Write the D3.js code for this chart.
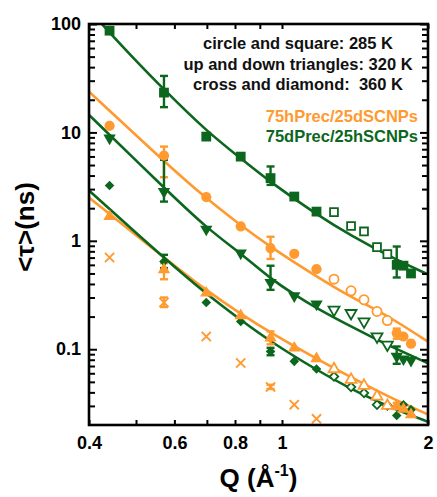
<!DOCTYPE html>
<html><head><meta charset="utf-8">
<script src="https://cdn.jsdelivr.net/npm/d3@7"></script>
<style>
body{margin:0;background:#fff}
text{font-family:"Liberation Sans",Arial,sans-serif;font-weight:bold}
</style>
</head><body><svg id="c" width="437" height="497"></svg>
<script>
// ---------------- data ----------------
const qFilled = [0.441, 0.571, 0.698, 0.822, 0.947, 1.060, 1.178, 1.724, 1.780, 1.845];
const qOpen   = [1.280, 1.388, 1.476, 1.570, 1.649];
const qCross  = [0.441, 0.571, 0.698, 0.822, 0.947, 1.060, 1.178];

// 75dPrec/25hSCNPs (green)
const squareFilled  = [86.8, 23.3, 9.15, 5.98, 3.79, 2.56, 1.86, 0.60, 0.59, 0.50];   // 285 K
const squareOpen    = [1.84, 1.37, 1.22, 0.875, 0.754];
const downTriFilled = [8.85, 2.85, 1.28, 0.771, 0.413, 0.311, 0.261, 0.0859, 0.0813, 0.079]; // 320 K
const downTriOpen   = [0.231, 0.215, 0.180, 0.131, 0.110];
const diamondFilled = [3.24, 0.644, 0.270, 0.180, 0.0955, 0.0773, 0.0656, 0.0245, 0.0308, 0.0277]; // 360 K
const diamondOpen   = [0.0561, 0.0449, 0.0394, 0.0308, 0.0302];

// 75hPrec/25dSCNPs (orange)
const circleFilled  = [11.5, 6.1, 2.53, 1.36, 0.857, 0.759, 0.548, 0.141, 0.131, 0.1125]; // 285 K
const circleOpen    = [0.443, 0.346, 0.286, 0.223, 0.184];
const upTriFilled   = [1.68, 0.541, 0.330, 0.204, 0.127, 0.1026, 0.0817, 0.030, 0.028, 0.0249]; // 320 K
const upTriOpen     = [0.0656, 0.0524, 0.0461, 0.0367, 0.0301];
const crossVals     = [0.701, 0.270, 0.131, 0.0746, 0.0449, 0.0308, 0.0228]; // 360 K

// error bars
const errSeries = ["square","square","square","circle","circle","circle","downTri","downTri","downTri","upTri","upTri","upTri","diamond","diamond","cross","cross"];
const errQ      = [0.571, 0.947, 1.724, 0.571, 0.947, 1.724, 0.571, 0.947, 1.724, 0.571, 0.947, 1.724, 0.571, 0.947, 0.571, 0.947];
const errLo     = [17.1, 3.28, 0.459, 3.86, 0.68, 0.125, 2.30, 0.353, 0.0734, 0.442, 0.111, 0.028, 0.56, 0.088, 0.245, 0.043];
const errHi     = [33.2, 4.85, 0.886, 7.4, 1.09, 0.155, 5.58, 0.589, 0.106, 0.622, 0.146, 0.032, 0.743, 0.103, 0.30, 0.047];

// fit curves
const fitSquareQ  = [0.4, 0.425, 0.5, 0.571, 0.698, 0.822, 0.947, 1.178, 1.386, 1.724, 2.0];
const fitSquareT  = [135.5, 100, 45.6, 24.9, 10.3, 5.76, 3.47, 1.75, 1.119, 0.663, 0.490];
const fitCircleQ  = [0.4, 0.571, 0.698, 0.822, 0.947, 1.178, 1.388, 1.570, 1.724, 2.0];
const fitCircleT  = [23.8, 5.40, 2.45, 1.39, 0.875, 0.468, 0.302, 0.229, 0.180, 0.1175];
const fitDownTriQ = [0.4, 0.571, 0.698, 0.822, 0.947, 1.060, 1.176, 1.388, 1.570, 1.724, 2.0];
const fitDownTriT = [14.5, 3.09, 1.318, 0.767, 0.447, 0.319, 0.240, 0.1616, 0.1226, 0.1002, 0.0743];
const fitUpTriQ   = [0.4, 0.571, 0.698, 0.822, 0.947, 1.176, 1.388, 1.570, 1.724, 2.0];
const fitUpTriT   = [2.51, 0.701, 0.348, 0.212, 0.142, 0.0821, 0.0550, 0.0415, 0.0337, 0.0250];
const fitDiamondQ = [0.4, 0.571, 0.698, 0.822, 0.947, 1.176, 1.388, 1.570, 1.724, 2.0];
const fitDiamondT = [2.91, 0.694, 0.3234, 0.1858, 0.1175, 0.0647, 0.0430, 0.0332, 0.0276, 0.0214];

// ticks & texts
const xMajor = [0.4, 0.6, 0.8, 1, 2];
const xMinor = [0.5, 0.7, 0.9];
const yMajor = [0.1, 1, 10, 100];
const yMinor = [0.03,0.04,0.05,0.06,0.07,0.08,0.09,0.2,0.3,0.4,0.5,0.6,0.7,0.8,0.9,2,3,4,5,6,7,8,9,20,30,40,50,60,70,80,90];
const noteLines = ["circle and square: 285 K", "up and down triangles: 320 K", "cross and diamond:  360 K"];
const legendLabels = ["75hPrec/25dSCNPs", "75dPrec/25hSCNPs"];

// ---------------- drawing ----------------
const orange = "#FF9A30", green = "#0C661E";
const L = 89, R = 428, T = 24, B = 425;
const svg = d3.select("#c");
const x = d3.scaleLog().domain([0.4, 2]).range([L, R]);
const y = d3.scaleLog().domain([0.02, 100]).range([B, T]);

svg.append("defs").append("clipPath").attr("id","clip")
  .append("rect").attr("x",L).attr("y",T).attr("width",R-L).attr("height",B-T);

const series = [
  {key:"square",  color:green,  filled:squareFilled,  open:squareOpen,  fitQ:fitSquareQ,  fitT:fitSquareT},
  {key:"downTri", color:green,  filled:downTriFilled, open:downTriOpen, fitQ:fitDownTriQ, fitT:fitDownTriT},
  {key:"diamond", color:green,  filled:diamondFilled, open:diamondOpen, fitQ:fitDiamondQ, fitT:fitDiamondT},
  {key:"circle",  color:orange, filled:circleFilled,  open:circleOpen,  fitQ:fitCircleQ,  fitT:fitCircleT},
  {key:"upTri",   color:orange, filled:upTriFilled,   open:upTriOpen,   fitQ:fitUpTriQ,   fitT:fitUpTriT},
];
const colorOf = {square:green, downTri:green, diamond:green, circle:orange, upTri:orange, cross:orange};

// fit lines
const lineGen = d3.line().x(d => x(d[0])).y(d => y(d[1])).curve(d3.curveBasis);
const gLines = svg.append("g").attr("clip-path","url(#clip)");
[3,4,0,1,2].forEach(i => {
  const s = series[i];
  gLines.append("path").datum(s.fitQ.map((q,j)=>[q, s.fitT[j]]))
    .attr("d", lineGen).attr("fill","none").attr("stroke", s.color).attr("stroke-width", 2.6);
});

// error bars
const gErr = svg.append("g").attr("clip-path","url(#clip)");
errQ.forEach((q,i) => {
  const c = colorOf[errSeries[i]];
  const cx = x(q), y1 = y(errLo[i]), y2 = y(errHi[i]);
  gErr.append("line").attr("x1",cx).attr("x2",cx).attr("y1",y1).attr("y2",y2).attr("stroke",c).attr("stroke-width",2.4);
  [y1,y2].forEach(yy => gErr.append("line").attr("x1",cx-4).attr("x2",cx+4).attr("y1",yy).attr("y2",yy).attr("stroke",c).attr("stroke-width",2.4));
});

// markers
function symPath(key, open){
  if (key === "square") return d3.symbol(d3.symbolSquare, open ? 62 : 96)();
  if (key === "circle") return d3.symbol(d3.symbolCircle, open ? 66 : 82)();
  if (key === "upTri" || key === "downTri") return d3.symbol(d3.symbolTriangle, open ? 52 : 66)();
  if (key === "diamond") return d3.symbol(d3.symbolSquare, open ? 36 : 46)();
}
function rotOf(key){ return key === "downTri" ? 180 : (key === "diamond" ? 45 : 0); }

const gMark = svg.append("g");
series.forEach(s => {
  s.filled.forEach((v,i) => {
    gMark.append("path").attr("d", symPath(s.key,false))
      .attr("transform", `translate(${x(qFilled[i])},${y(v)}) rotate(${rotOf(s.key)})`)
      .attr("fill", s.color);
  });
  s.open.forEach((v,i) => {
    gMark.append("path").attr("d", symPath(s.key,true))
      .attr("transform", `translate(${x(qOpen[i])},${y(v)}) rotate(${rotOf(s.key)})`)
      .attr("fill", "#fff").attr("stroke", s.color).attr("stroke-width", 1.8);
  });
});
crossVals.forEach((v,i) => {
  const cx = x(qCross[i]), cy = y(v), r = 4.6;
  gMark.append("path").attr("d", `M${cx-r},${cy-r}L${cx+r},${cy+r}M${cx+r},${cy-r}L${cx-r},${cy+r}`)
    .attr("stroke", orange).attr("stroke-width", 1.9).attr("fill","none");
});

// axes
function styleAxis(g){
  g.select(".domain").remove();
  g.selectAll(".tick line").attr("stroke","#000").attr("stroke-width",2);
  g.selectAll(".tick text").attr("fill","#000").style("font-size","18px").style("font-weight","bold")
    .style("font-family",'"Liberation Sans",Arial,sans-serif');
}
svg.append("g").attr("transform",`translate(${L},0)`)
  .call(d3.axisLeft(y).tickValues(yMajor).tickSize(-8).tickPadding(8).tickFormat(d => String(d))).call(styleAxis);
svg.append("g").attr("transform",`translate(${L},0)`)
  .call(d3.axisLeft(y).tickValues(yMinor).tickSize(-6).tickFormat("")).call(styleAxis);
svg.append("g").attr("transform",`translate(${R},0)`)
  .call(d3.axisRight(y).tickValues(yMajor).tickSize(-8).tickFormat("")).call(styleAxis);
svg.append("g").attr("transform",`translate(${R},0)`)
  .call(d3.axisRight(y).tickValues(yMinor).tickSize(-6).tickFormat("")).call(styleAxis);
svg.append("g").attr("transform",`translate(0,${B})`)
  .call(d3.axisBottom(x).tickValues(xMajor).tickSize(-5).tickPadding(11).tickFormat(d => String(d))).call(styleAxis);
svg.append("g").attr("transform",`translate(0,${B})`)
  .call(d3.axisBottom(x).tickValues(xMinor).tickSize(-5).tickFormat("")).call(styleAxis);
svg.append("g").attr("transform",`translate(0,${T})`)
  .call(d3.axisTop(x).tickValues(xMajor.concat(xMinor)).tickSize(-5).tickFormat("")).call(styleAxis);

// frame
svg.append("rect").attr("x",L).attr("y",T).attr("width",R-L).attr("height",B-T)
  .attr("fill","none").attr("stroke","#000").attr("stroke-width",2.6);

// axis titles
const xt = svg.append("text").attr("x",(L+R)/2).attr("y",487).attr("text-anchor","middle")
  .style("font-size","26px").attr("fill","#000");
xt.append("tspan").text("Q (Å");
xt.append("tspan").text("-1").style("font-size","16px").attr("dy",-11);
xt.append("tspan").text(")").attr("dy",11);

svg.append("text").attr("transform","translate(34,227) rotate(-90)").attr("text-anchor","middle")
  .style("font-size","26px").attr("fill","#000").text("<τ>(ns)");

// annotation
noteLines.forEach((t,i) => {
  svg.append("text").attr("x",298).attr("y",49 + i*20.5).attr("text-anchor","middle")
    .style("font-size","16.5px").style("white-space","pre").attr("fill","#111").text(t);
});
legendLabels.forEach((t,i) => {
  svg.append("text").attr("x",418).attr("y",121.7 + i*20).attr("text-anchor","end")
    .style("font-size","16.5px").attr("fill", i === 0 ? orange : green).text(t);
});
</script></body></html>
